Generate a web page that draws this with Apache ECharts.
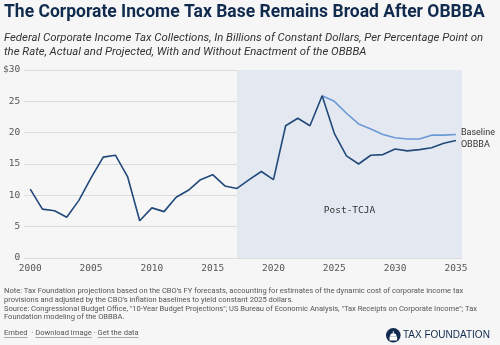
<!DOCTYPE html>
<html>
<head>
<meta charset="utf-8">
<script src="https://cdn.jsdelivr.net/npm/echarts@6/dist/echarts.min.js"></script>
<style>
  html, body { margin: 0; padding: 0; background: #f6f6f6; }
  #chart { width: 500px; height: 345px; }
</style>
</head>
<body>
<div id="chart"></div>
<script>
// Corporate income tax collections per percentage point of the rate (billions, constant 2025 $)
const years = [2000, 2001, 2002, 2003, 2004, 2005, 2006, 2007, 2008, 2009, 2010, 2011, 2012,
  2013, 2014, 2015, 2016, 2017, 2018, 2019, 2020, 2021, 2022, 2023, 2024];
const actual = [11.0, 7.8, 7.55, 6.5, 9.2, 12.8, 16.1, 16.4, 13.0, 5.95, 8.0, 7.4, 9.7,
  10.8, 12.5, 13.3, 11.5, 11.1, 12.5, 13.8, 12.5, 21.1, 22.3, 21.1, 25.9];

const projYears = [2024, 2025, 2026, 2027, 2028, 2029, 2030, 2031, 2032, 2033, 2034, 2035];
const baseline = [25.9, 25.0, 23.1, 21.4, 20.6, 19.7, 19.2, 19.0, 19.0, 19.6, 19.6, 19.7];
const obbba = [25.9, 19.9, 16.3, 15.0, 16.4, 16.5, 17.4, 17.1, 17.3, 17.6, 18.3, 18.75];

const xTicks = [2000, 2005, 2010, 2015, 2020, 2025, 2030, 2035];
const yTicks = [0, 5, 10, 15, 20, 25, 30];
const postTcjaStart = 2017;

const navy = '#21497a';
const lightBlue = '#6b99d6';
const mono = '"DejaVu Sans Mono", monospace';
const sans = 'Roboto, "Noto Sans", sans-serif';

const pair = (xs, ys) => xs.map((x, i) => [x, ys[i]]);

// footer links, drawn with underlines
const linkFont = '7.6px ' + sans;
const links = ['Embed', 'Download image', 'Get the data'];
const measure = (() => {
  const ctx = document.createElement('canvas').getContext('2d');
  return (txt, font) => { ctx.font = font; return ctx.measureText(txt).width; };
})();
const linkGraphics = [];
(function buildLinks() {
  let x = 4;
  const y = 329;
  links.forEach((t, i) => {
    if (i > 0) {
      const sep = i === 1 ? '  \u00b7 ' : ' \u00b7 ';
      linkGraphics.push({ type: 'text', x: x, y: y, style: { text: sep, fill: '#555', font: linkFont } });
      x += measure(sep, linkFont);
    }
    const w = measure(t, linkFont);
    linkGraphics.push({ type: 'text', x: x, y: y, style: { text: t, fill: '#555', font: linkFont } });
    linkGraphics.push({ type: 'line', shape: { x1: x, y1: y + 8.5, x2: x + w, y2: y + 8.5 }, style: { stroke: '#777', lineWidth: 0.6 } });
    x += w;
  });
})();

const chart = echarts.init(document.getElementById('chart'), null, { renderer: 'canvas' });

chart.setOption({
  backgroundColor: '#f6f6f6',
  animation: false,
  grid: { left: 23, right: 38, top: 70, bottom: 87, containLabel: false },
  xAxis: {
    type: 'value',
    min: 1999.5,
    max: 2035.5,
    axisLine: { show: false },
    axisTick: { show: false },
    splitLine: { show: false },
    axisLabel: {
      customValues: xTicks,
      color: '#555',
      fontFamily: mono,
      fontSize: 9.5,
      margin: 6,
      formatter: v => String(v)
    }
  },
  yAxis: {
    type: 'value',
    min: 0,
    max: 30,
    interval: 5,
    axisLine: { show: false },
    axisTick: { show: false },
    splitLine: { lineStyle: { color: '#dcdcdc', width: 1 } },
    axisLabel: {
      customValues: yTicks,
      color: '#555',
      fontFamily: mono,
      fontSize: 9.5,
      margin: 4,
      formatter: v => (v === 30 ? '$30' : String(v))
    }
  },
  series: [
    {
      name: 'Actual',
      type: 'line',
      data: pair(years, actual),
      symbol: 'none',
      lineStyle: { color: navy, width: 1.6 },
      z: 3,
      markArea: {
        silent: true,
        itemStyle: { color: '#e4e9f1' },
        label: {
          show: true,
          position: 'inside',
          offset: [0, 47],
          color: '#333',
          fontFamily: mono,
          fontSize: 9.5
        },
        data: [[{ name: 'Post-TCJA', xAxis: postTcjaStart }, { xAxis: 2035.5 }]]
      }
    },
    {
      name: 'Baseline',
      type: 'line',
      data: pair(projYears, baseline),
      symbol: 'none',
      lineStyle: { color: lightBlue, width: 1.6 },
      z: 2,
      endLabel: {
        show: true,
        formatter: 'Baseline',
        color: '#333',
        fontFamily: sans,
        fontSize: 9,
        distance: 5,
        offset: [0, -2]
      }
    },
    {
      name: 'OBBBA',
      type: 'line',
      data: pair(projYears, obbba),
      symbol: 'none',
      lineStyle: { color: navy, width: 1.6 },
      z: 3,
      endLabel: {
        show: true,
        formatter: 'OBBBA',
        color: '#333',
        fontFamily: sans,
        fontSize: 9,
        distance: 5,
        offset: [0, 4]
      }
    }
  ],
  graphic: [
    {
      type: 'text', left: 4, top: 4,
      style: {
        text: 'The Corporate Income Tax Base Remains Broad After OBBBA',
        fill: '#112b4f', font: 'bold 17.5px ' + sans
      }
    },
    {
      type: 'text', left: 4, top: 31,
      style: {
        text: 'Federal Corporate Income Tax Collections, In Billions of Constant Dollars, Per Percentage Point on\nthe Rate, Actual and Projected, With and Without Enactment of the OBBBA',
        fill: '#333', font: 'italic 11.4px ' + sans, lineHeight: 14
      }
    },
    {
      type: 'text', left: 4, top: 287,
      style: {
        text: 'Note: Tax Foundation projections based on the CBO\u2019s FY forecasts, accounting for estimates of the dynamic cost of corporate income tax\nprovisions and adjusted by the CBO\u2019s inflation baselines to yield constant 2025 dollars.\nSource: Congressional Budget Office, "10-Year Budget Projections"; US Bureau of Economic Analysis, "Tax Receipts on Corporate Income"; Tax\nFoundation modeling of the OBBBA.',
        fill: '#555', font: '7.55px ' + sans, lineHeight: 8.7
      }
    },
    ...linkGraphics,
    // Tax Foundation mark
    {
      type: 'group', left: 386, top: 328,
      children: [
        { type: 'circle', shape: { cx: 7.3, cy: 7.3, r: 7.3 }, style: { fill: '#112b4f' } },
        { type: 'rect', shape: { x: 3.5, y: 8.5, width: 7.6, height: 4 }, style: { fill: '#ffffff' } },
        { type: 'sector', shape: { cx: 7.3, cy: 8.5, r0: 0, r: 3.2, startAngle: Math.PI, endAngle: 2 * Math.PI }, style: { fill: '#ffffff' } },
        { type: 'rect', shape: { x: 6.8, y: 3.2, width: 1, height: 2.4 }, style: { fill: '#ffffff' } },
        {
          type: 'text', x: 17, y: 2.5,
          style: { text: 'TAX FOUNDATION', fill: '#112b4f', font: '10px "Liberation Sans", Arial, sans-serif' }
        }
      ]
    }
  ]
});
</script>
</body>
</html>
